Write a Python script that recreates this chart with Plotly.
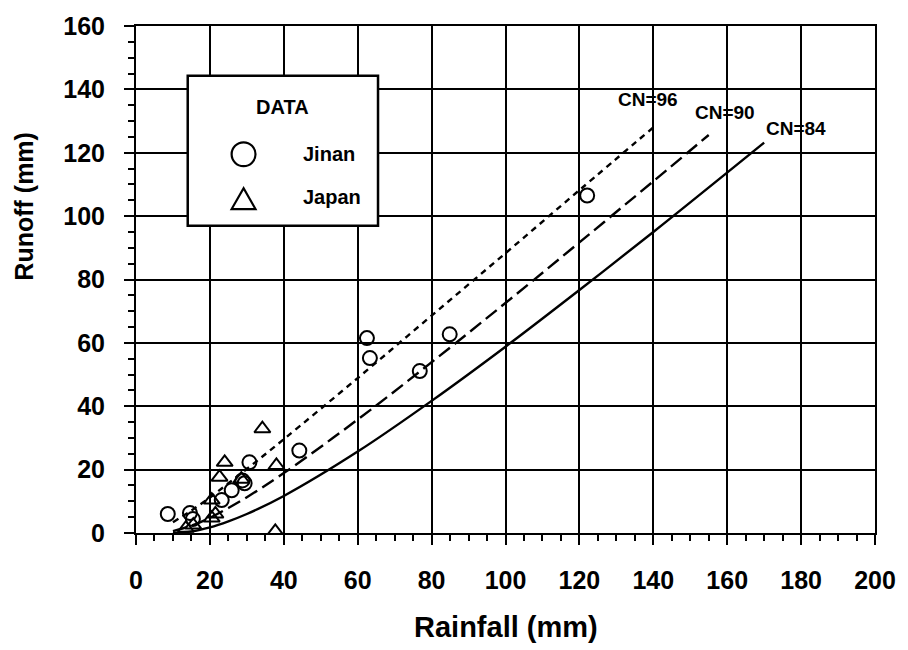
import plotly.graph_objects as go

# ---- data ----
jinan_rain = [8.6, 14.6, 15.4, 23.2, 25.9, 29.4, 28.8, 30.7, 44.2, 62.5, 63.3, 76.8, 84.9, 122.1]
jinan_runoff = [6.0, 6.3, 4.4, 10.4, 13.5, 15.7, 16.6, 22.3, 26.0, 61.5, 55.2, 51.1, 62.7, 106.5]

japan_rain = [13.5, 15.5, 20.5, 20.5, 21.5, 22.6, 24.0, 28.5, 34.2, 38.0, 37.7]
japan_runoff = [1.5, 2.5, 4.7, 10.4, 6.0, 17.6, 22.3, 17.0, 32.9, 21.3, 0.5]

cn96_rain = [10, 15, 20, 25, 30, 40, 60, 80, 100, 120, 140]
cn96_runoff = [3.4, 7.1, 11.2, 15.7, 20.2, 29.6, 48.9, 68.6, 88.3, 108.2, 128.0]

cn90_rain = [10, 15, 20, 25, 30, 40, 60, 80, 100, 120, 140, 155]
cn90_runoff = [0.6, 2.3, 4.8, 7.9, 11.3, 18.9, 35.8, 53.9, 72.6, 91.7, 111.0, 125.6]

cn84_rain = [10, 15, 20, 25, 30, 40, 60, 80, 100, 120, 140, 170]
cn84_runoff = [0.0, 0.5, 1.8, 3.7, 6.0, 11.7, 25.7, 41.7, 58.8, 76.7, 95.0, 123.2]

curve_labels = ["CN=96", "CN=90", "CN=84"]
label_pos_x = [138.5, 159.3, 178.7]
label_pos_y = [136.8, 132.7, 127.7]

x_ticks = [0, 20, 40, 60, 80, 100, 120, 140, 160, 180, 200]
y_ticks = [0, 20, 40, 60, 80, 100, 120, 140, 160]

FONT = "Liberation Sans, Arial, sans-serif"

fig = go.Figure()

line_w = 2.4
fig.add_trace(go.Scatter(x=cn96_rain, y=cn96_runoff, mode="lines", line_shape="spline",
                         line=dict(color="black", width=line_w, dash="6px,5px"),
                         name="CN=96", showlegend=False))
fig.add_trace(go.Scatter(x=cn90_rain, y=cn90_runoff, mode="lines", line_shape="spline",
                         line=dict(color="black", width=line_w, dash="14px,6px"),
                         name="CN=90", showlegend=False))
fig.add_trace(go.Scatter(x=cn84_rain, y=cn84_runoff, mode="lines", line_shape="spline",
                         line=dict(color="black", width=line_w),
                         name="CN=84", showlegend=False))

fig.add_trace(go.Scatter(x=jinan_rain, y=jinan_runoff, mode="markers", name="Jinan",
                         marker=dict(symbol="circle-open", size=14, color="black",
                                     line=dict(width=2, color="black")),
                         showlegend=False))
fig.add_trace(go.Scatter(x=japan_rain, y=japan_runoff, mode="markers", name="Japan",
                         marker=dict(symbol="triangle-up-open", size=14, color="black",
                                     line=dict(width=2, color="black")),
                         showlegend=False))

for t, lx, ly in zip(curve_labels, label_pos_x, label_pos_y):
    fig.add_annotation(x=lx, y=ly, text=t, showarrow=False, xanchor="center", yanchor="middle",
                       font=dict(family=FONT, size=19, color="black", weight="bold"))

# ---- legend box (drawn manually to match the original) ----
shapes = [
    dict(type="rect", xref="paper", yref="paper", x0=0.070, x1=0.3275, y0=0.606, y1=0.902,
         line=dict(color="black", width=2.5), fillcolor="white", layer="above"),
    dict(type="circle", xref="paper", yref="paper", x0=0.1294, x1=0.1617, y0=0.7235, y1=0.7706,
         line=dict(color="black", width=2.2), layer="above"),
    dict(type="path", xref="paper", yref="paper",
         path="M 0.1294 0.639 L 0.1617 0.639 L 0.1456 0.680 Z",
         line=dict(color="black", width=2.2), layer="above"),
]
fig.add_annotation(xref="paper", yref="paper", x=0.198, y=0.841, text="DATA", showarrow=False,
                   xanchor="center", yanchor="middle",
                   font=dict(family=FONT, size=20, color="black", weight="bold"))
fig.add_annotation(xref="paper", yref="paper", x=0.2237, y=0.747, text="Jinan", showarrow=False,
                   xanchor="left", yanchor="middle",
                   font=dict(family=FONT, size=20, color="black", weight="bold"))
fig.add_annotation(xref="paper", yref="paper", x=0.2237, y=0.663, text="Japan", showarrow=False,
                   xanchor="left", yanchor="middle",
                   font=dict(family=FONT, size=20, color="black", weight="bold"))

# axis titles
fig.add_annotation(xref="paper", yref="paper", x=0.5, y=-0.185, text="Rainfall (mm)", showarrow=False,
                   xanchor="center", yanchor="middle",
                   font=dict(family=FONT, size=29, color="black", weight="bold"))
fig.add_annotation(xref="paper", yref="paper", x=-0.152, y=0.645, text="Runoff (mm)", showarrow=False,
                   xanchor="center", yanchor="middle", textangle=-90,
                   font=dict(family=FONT, size=25, color="black", weight="bold"))

axis_common = dict(
    showgrid=True, gridcolor="black", gridwidth=1.8,
    showline=True, linecolor="black", linewidth=2, mirror=True,
    ticks="outside", ticklen=10, tickwidth=1.8, tickcolor="black",
    minor=dict(ticks="outside", ticklen=6, tickwidth=1.5, tickcolor="black", dtick=5, showgrid=False),
    zeroline=False,
    tickfont=dict(family=FONT, size=25, color="black", weight="bold"),
)

fig.update_xaxes(range=[0, 200], tickvals=x_ticks, ticktext=[str(v) for v in x_ticks],
                 ticklabelstandoff=14, **axis_common)
fig.update_yaxes(range=[0, 160], tickvals=y_ticks, ticktext=[str(v) for v in y_ticks],
                 ticklabelstandoff=14, **axis_common)

fig.update_layout(
    width=908, height=650,
    margin=dict(l=136, r=30, t=23, b=117),
    plot_bgcolor="white", paper_bgcolor="white",
    shapes=shapes,
    showlegend=False,
)

fig.write_html("out.html")
